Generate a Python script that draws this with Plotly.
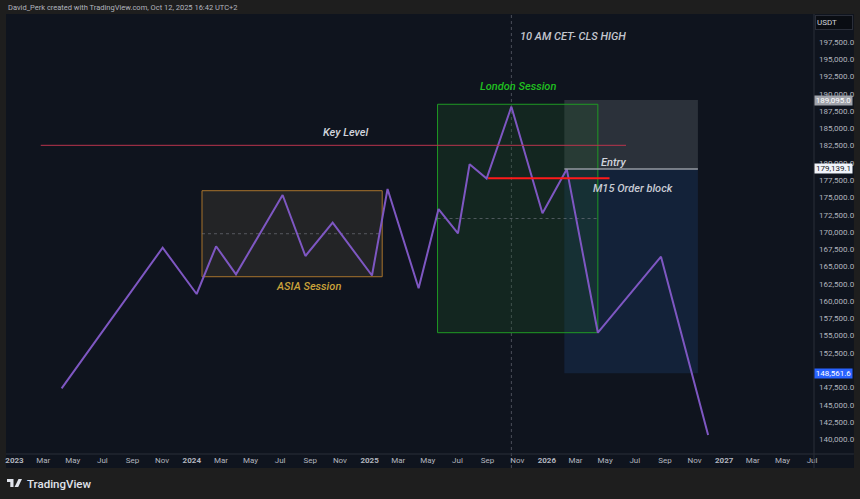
import plotly.graph_objects as go

# ---------------- data ----------------
dates = ["2023-04-08", "2023-11-02", "2024-01-11", "2024-02-20", "2024-04-01",
         "2024-07-06", "2024-08-22", "2024-10-17", "2025-01-06", "2025-02-07",
         "2025-04-12", "2025-05-23", "2025-07-02", "2025-07-26", "2025-08-30",
         "2025-10-20", "2025-12-23", "2026-02-11", "2026-04-16", "2026-08-24",
         "2026-11-29"]
prices = [147380, 167730, 161030, 167940, 163880,
          175360, 166530, 171350, 163710, 176230,
          161860, 173330, 169820, 179820, 177750,
          188140, 172710, 179100, 155430, 166430,
          140620]

x_tickvals = ["2023-01-01", "2023-03-01", "2023-05-01", "2023-07-01", "2023-09-01", "2023-11-01",
              "2024-01-01", "2024-03-01", "2024-05-01", "2024-07-01", "2024-09-01", "2024-11-01",
              "2025-01-01", "2025-03-01", "2025-05-01", "2025-07-01", "2025-09-01", "2025-11-01",
              "2026-01-01", "2026-03-01", "2026-05-01", "2026-07-01", "2026-09-01", "2026-11-01",
              "2027-01-01", "2027-03-01", "2027-05-01", "2027-07-01"]
x_ticktext = ["<b>2023</b>", "Mar", "May", "Jul", "Sep", "Nov",
              "<b>2024</b>", "Mar", "May", "Jul", "Sep", "Nov",
              "<b>2025</b>", "Mar", "May", "Jul", "Sep", "Nov",
              "<b>2026</b>", "Mar", "May", "Jul", "Sep", "Nov",
              "<b>2027</b>", "Mar", "May", "Jul"]
y_tickvals = [140000, 142500, 145000, 147500, 152500, 155000, 157500, 160000,
              162500, 165000, 167500, 170000, 172500, 175000, 177500, 180000,
              182500, 185000, 187500, 190000, 192500, 195000, 197500]

# drawings
asia_box = dict(start="2024-01-22", end="2025-01-27", high=175980, low=163530)
london_box = dict(start="2025-05-21", end="2026-04-16", high=188490, low=155430)
position = dict(start="2026-02-06", end="2026-11-08", stop=189095.0, entry=179139.1, target=149553)
key_level = dict(start="2023-02-24", end="2026-06-13", price=182550)
order_block = dict(start="2025-09-02", end="2026-05-10", price=177780)
session_high_date = "2025-10-20"
price_labels = [("189,095.0", position["stop"], "#a0a3ab", "#ffffff"),
                ("179,139.1", position["entry"], "#f0f3fa", "#131722"),
                ("148,561.6", position["target"], "#2962ff", "#ffffff")]

# ---------------- styling ----------------
NAVY = "#0f141e"
OUTER = "#1e1e1e"
AXIS_TXT = "#b2b5be"
LINE = "#2a2e39"

W, H = 860, 499
ML, MR, MT, MB = 5, 45, 14, 45
PW, PH = W - ML - MR, H - MT - MB


def px_x(px):
    return (px - ML) / PW


def px_y(py):
    return (H - MB - py) / PH


fig = go.Figure()
fig.add_trace(go.Scatter(x=dates, y=prices, mode="lines",
                         line=dict(color="#7e57c2", width=2), hoverinfo="skip"))

shapes = []
# navy axis strips (outside plot area)
shapes.append(dict(type="rect", xref="paper", yref="paper", x0=1, x1=px_x(855), y0=px_y(468), y1=1,
                   fillcolor=NAVY, line=dict(width=0), layer="below"))
shapes.append(dict(type="rect", xref="paper", yref="paper", x0=0, x1=px_x(855), y0=px_y(468), y1=0,
                   fillcolor=NAVY, line=dict(width=0), layer="below"))
# position tool boxes
shapes.append(dict(type="rect", xref="x", yref="y", x0=position["start"], x1=position["end"],
                   y0=position["target"], y1=position["entry"],
                   fillcolor="rgba(30,60,110,0.35)", line=dict(width=0), layer="below"))
shapes.append(dict(type="rect", xref="x", yref="y", x0=position["start"], x1=position["end"],
                   y0=position["entry"], y1=position["stop"],
                   fillcolor="rgba(120,124,134,0.28)", line=dict(width=0), layer="below"))
# London session box
shapes.append(dict(type="rect", xref="x", yref="y", x0=london_box["start"], x1=london_box["end"],
                   y0=london_box["low"], y1=london_box["high"],
                   fillcolor="rgba(30,90,40,0.25)", line=dict(color="#1f9a24", width=1), layer="below"))
shapes.append(dict(type="line", xref="x", yref="y", x0=london_box["start"], x1=london_box["end"],
                   y0=(london_box["low"] + london_box["high"]) / 2, y1=(london_box["low"] + london_box["high"]) / 2,
                   line=dict(color="rgba(120,124,134,0.6)", width=1, dash="3px,3px"), layer="below"))
# ASIA session box
shapes.append(dict(type="rect", xref="x", yref="y", x0=asia_box["start"], x1=asia_box["end"],
                   y0=asia_box["low"], y1=asia_box["high"],
                   fillcolor="rgba(40,40,40,0.8)", line=dict(color="#a8742c", width=1), layer="below"))
shapes.append(dict(type="line", xref="x", yref="y", x0=asia_box["start"], x1=asia_box["end"],
                   y0=(asia_box["low"] + asia_box["high"]) / 2, y1=(asia_box["low"] + asia_box["high"]) / 2,
                   line=dict(color="rgba(120,124,134,0.6)", width=1, dash="3px,3px"), layer="below"))
# vertical dashed line
shapes.append(dict(type="line", xref="x", yref="paper", x0=session_high_date, x1=session_high_date,
                   y0=px_y(468), y1=1, line=dict(color="#4a4e59", width=1, dash="3px,3px"), layer="below"))
# key level
shapes.append(dict(type="line", xref="x", yref="y", x0=key_level["start"], x1=key_level["end"],
                   y0=key_level["price"], y1=key_level["price"],
                   line=dict(color="#b8344c", width=1), layer="above"))
# entry line
shapes.append(dict(type="line", xref="x", yref="y", x0=position["start"], x1=position["end"],
                   y0=position["entry"], y1=position["entry"],
                   line=dict(color="#9598a1", width=1.5), layer="above"))
# order block line
shapes.append(dict(type="line", xref="x", yref="y", x0=order_block["start"], x1=order_block["end"],
                   y0=order_block["price"], y1=order_block["price"],
                   line=dict(color="#ff1a1a", width=2), layer="above"))
# axis separators
shapes.append(dict(type="line", xref="paper", yref="paper", x0=1, x1=1, y0=px_y(468), y1=1,
                   line=dict(color=LINE, width=1), layer="above"))
shapes.append(dict(type="line", xref="paper", yref="paper", x0=0, x1=px_x(855), y0=0, y1=0,
                   line=dict(color=LINE, width=1), layer="above"))
# TradingView logo (pixel sized, y up)
logo_anchor = dict(xref="paper", yref="paper", xsizemode="pixel", ysizemode="pixel",
                   xanchor=px_x(6), yanchor=px_y(487), fillcolor="#e0e3eb", line=dict(width=0),
                   layer="above")
shapes.append(dict(type="path", path="M0,8 L6.5,8 L6.5,0 L3.3,0 L3.3,5 L0,5 Z", **logo_anchor))
shapes.append(dict(type="path", path="M7.2,6.5 A1.6,1.6 0 1 1 10.4,6.5 A1.6,1.6 0 1 1 7.2,6.5 Z", **logo_anchor))
shapes.append(dict(type="path", path="M11.5,8 L15,8 L11.2,0 L7.6,0 Z", **logo_anchor))

annotations = []
txt = dict(family="Roboto", size=11, style="italic", weight=500)


def note(text, x, y, color):
    annotations.append(dict(text=text, x=x, y=y, xref="x", yref="y", showarrow=False,
                            font=dict(color=color, **txt), xanchor="center", yanchor="middle"))


note("10 AM CET- CLS HIGH", "2026-02-24", 198370, "#c3c6ce")
note("London Session", "2025-11-02", 191030, "#20c020")
note("Key Level", "2024-11-14", 184350, "#d1d4dc")
note("ASIA Session", "2024-08-28", 162090, "#caa23a")
note("Entry", "2026-05-19", 180090, "#d1d4dc")
note("M15 Order block", "2026-06-28", 176230, "#c8cbd3")

for text, val, bg, fg in price_labels:
    annotations.append(dict(text=text, x=1, y=val, xref="paper", yref="y", xanchor="left",
                            yanchor="middle", showarrow=False, bgcolor=bg, width=37, height=9,
                            borderpad=0, align="center",
                            font=dict(family="Roboto", size=8, color=fg)))

annotations.append(dict(text="USDT", x=px_x(816), y=px_y(22), xref="paper", yref="paper",
                        xanchor="left", yanchor="middle", showarrow=False, bgcolor="#0a0d13",
                        bordercolor=LINE, borderwidth=1, width=34, height=11, align="left",
                        font=dict(family="Roboto", size=8, color="#d1d4dc")))
annotations.append(dict(text="David_Perk created with TradingView.com, Oct 12, 2025 16:42 UTC+2",
                        x=0, y=px_y(8), xref="paper", yref="paper", xanchor="left", yanchor="middle",
                        showarrow=False, font=dict(family="Roboto", size=7.5, color=AXIS_TXT)))
annotations.append(dict(text="TradingView", x=px_x(24), y=px_y(484), xref="paper", yref="paper",
                        xanchor="left", yanchor="middle", showarrow=False,
                        font=dict(family="Roboto", size=11.5, color="#e0e3eb", weight=500)))

fig.update_layout(
    width=W, height=H, margin=dict(l=ML, r=MR, t=MT, b=MB),
    paper_bgcolor=OUTER, plot_bgcolor=NAVY, showlegend=False,
    shapes=shapes, annotations=annotations,
    xaxis=dict(type="date", range=["2022-12-14 12:00", "2027-07-05"], showgrid=False, zeroline=False,
               tickvals=x_tickvals, ticktext=x_ticktext, ticks="", showline=False,
               tickfont=dict(family="Roboto", size=8, color=AXIS_TXT), fixedrange=True),
    yaxis=dict(side="right", range=[137872, 201557], showgrid=False, zeroline=False,
               tickvals=y_tickvals, tickformat=",.1f", ticks="", showline=False,
               ticklabelstandoff=4,
               tickfont=dict(family="Roboto", size=8, color=AXIS_TXT), fixedrange=True),
)

fig.write_html("out.html", config={"displayModeBar": False})
